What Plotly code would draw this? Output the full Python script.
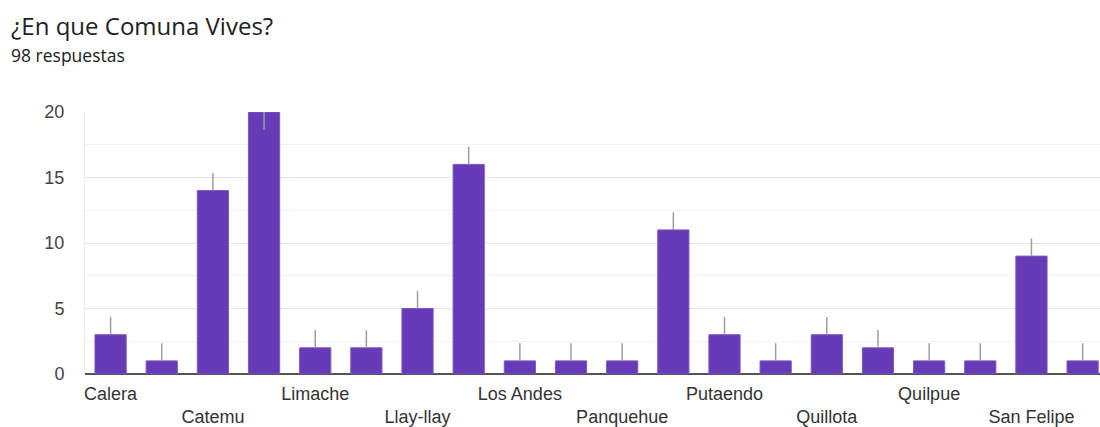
import plotly.graph_objects as go

# Responses per comuna (98 in total); only every other category name is printed on the axis
respuestas = [3, 1, 14, 20, 2, 2, 5, 16, 1, 1, 1, 11, 3, 1, 3, 2, 1, 1, 9, 1]
etiquetas = ["Calera", "", "Catemu", "", "Limache", "", "Llay-llay", "",
             "Los Andes", "", "Panquehue", "", "Putaendo", "", "Quillota", "",
             "Quilpue", "", "San Felipe", ""]
y_ticks = [0, 5, 10, 15, 20]

posiciones = list(range(len(respuestas)))
y_max = max(y_ticks)
stem = 1.35  # length of the grey marker stem above each bar

# stems point upward, except where the bar reaches the top of the axis
stem_up = [0 if v >= y_max else stem for v in respuestas]
stem_down = [stem if v >= y_max else 0 for v in respuestas]

tick_pos = [p for p, t in zip(posiciones, etiquetas) if t]
tick_txt = []
for i, t in enumerate([t for t in etiquetas if t]):
    tick_txt.append(t if i % 2 == 0 else "<br>" + t)

fig = go.Figure(
    go.Bar(
        x=posiciones,
        y=respuestas,
        width=0.61,
        marker=dict(color="#673ab7", line=dict(color="#7e57c2", width=1)),
        error_y=dict(type="data", symmetric=False, array=stem_up,
                     arrayminus=stem_down, color="#9e9e9e", thickness=1.5, width=0),
        hoverinfo="x+y",
    )
)

M_L, M_T, M_B, W, H = 85, 112, 53, 1100, 427
plot_w = W - M_L
plot_h = H - M_T - M_B

fig.update_layout(
    width=W,
    height=H,
    margin=dict(l=M_L, r=0, t=M_T, b=M_B),
    paper_bgcolor="white",
    plot_bgcolor="white",
    showlegend=False,
    font=dict(family="Liberation Sans, Arial, sans-serif", color="#444444", size=18),
    annotations=[
        dict(text="¿En que Comuna Vives?", xref="paper", yref="paper",
             x=-(M_L - 9) / plot_w, y=1 + (M_T - 25) / plot_h,
             xanchor="left", yanchor="middle", showarrow=False,
             font=dict(family="Open Sans", size=24, color="#202124")),
        dict(text="98 respuestas", xref="paper", yref="paper",
             x=-(M_L - 9) / plot_w, y=1 + (M_T - 55) / plot_h,
             xanchor="left", yanchor="middle", showarrow=False,
             font=dict(family="Open Sans", size=17.5, color="#202124")),
    ],
)

fig.update_xaxes(
    range=[-0.5, 19.34],
    tickmode="array",
    tickvals=tick_pos,
    ticktext=tick_txt,
    showgrid=False,
    showline=False,
    ticks="",
    ticklabelstandoff=7,
    tickfont=dict(size=18, color="#333333"),
    zeroline=False,
)

fig.update_yaxes(
    range=[0, y_max],
    tickmode="array",
    tickvals=y_ticks,
    showgrid=True,
    gridcolor="#e6e6e6",
    gridwidth=1,
    minor=dict(dtick=2.5, showgrid=True, gridcolor="#f3f3f3", gridwidth=1),
    zeroline=True,
    zerolinecolor="#555555",
    zerolinewidth=2,
    showline=True,
    linecolor="#eeeeee",
    linewidth=1,
    ticks="",
    ticklabelstandoff=16,
    tickfont=dict(size=18, color="#444444"),
)

fig.write_html("out.html")
